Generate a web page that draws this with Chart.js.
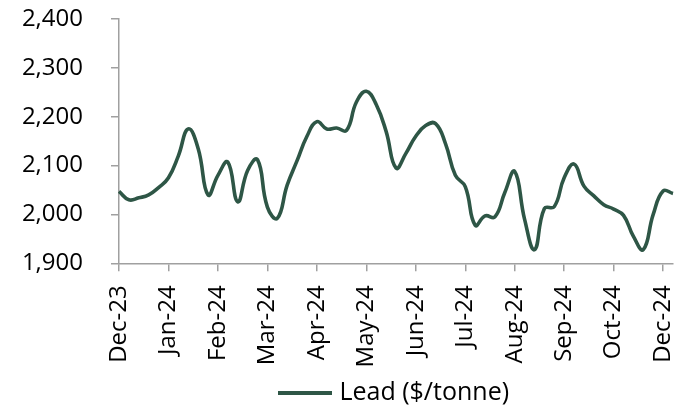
<!DOCTYPE html>
<html>
<head>
<meta charset="utf-8">
<script src="https://cdn.jsdelivr.net/npm/chart.js@4/dist/chart.umd.min.js"></script>
<style>
  html, body { margin: 0; padding: 0; background: #ffffff; }
  #wrap { width: 675px; height: 409px; position: relative; }
</style>
</head>
<body>
<div id="wrap"><canvas id="c" width="675" height="409"></canvas></div>
<script>
// Tick labels shown on the x axis (one every 5 weekly points)
const tickLabels = ['Dec-23','Jan-24','Feb-24','Mar-24','Apr-24','May-24','Jun-24','Jul-24','Aug-24','Sep-24','Oct-24','Dec-24'];
const pointsPerTick = 5;

// Lead price, $/tonne (weekly readings from the picture)
const leadPrices = [
  2047, 2030, 2034, 2040, 2055, 2075, 2120, 2175, 2135, 2040,
  2080, 2107, 2026, 2090, 2112, 2015, 1992, 2060, 2110, 2160,
  2190, 2175, 2177, 2172, 2230, 2252, 2225, 2170, 2095, 2125,
  2160, 2182, 2186, 2145, 2080, 2057, 1978, 1997, 1995, 2045,
  2088, 1990, 1928, 2012, 2016, 2075, 2103, 2058, 2038, 2020,
  2011, 1998, 1955, 1928, 2000, 2048, 2043
];
const seriesName = 'Lead ($/tonne)';

// Category per weekly point: month label at every tick position
const categories = leadPrices.map((_, i) => (i % pointsPerTick === 0 && tickLabels[i / pointsPerTick]) ? tickLabels[i / pointsPerTick] : '');

const yMin = 1900, yMax = 2400, yStep = 100;

const lineColor = '#2e5646';
const axisColor = '#a0a0a0';
const textColor = '#000000';
const fontFamily = '"Open Sans", "Noto Sans", sans-serif';

// Legend swatch: a short thick line
const swatch = document.createElement('canvas');
swatch.width = 54; swatch.height = 4;
(function () {
  const g = swatch.getContext('2d');
  g.fillStyle = lineColor;
  g.fillRect(0, 0, 54, 4);
})();

new Chart(document.getElementById('c'), {
  type: 'line',
  data: {
    labels: categories,
    datasets: [{
      label: seriesName,
      data: leadPrices,
      borderColor: lineColor,
      backgroundColor: lineColor,
      borderWidth: 3.6,
      pointRadius: 0,
      pointStyle: swatch,
      tension: 0.45,
      fill: false
    }]
  },
  options: {
    responsive: false,
    animation: false,
    devicePixelRatio: 1,
    layout: { padding: { top: 19, right: 2, left: 0, bottom: -6 } },
    plugins: {
      tooltip: { enabled: false },
      legend: {
        display: true,
        position: 'bottom',
        fullSize: false,
        labels: {
          usePointStyle: true,
          pointStyleWidth: 44,
          color: textColor,
          font: { family: fontFamily, size: 25 },
          padding: 8
        }
      }
    },
    scales: {
      x: {
        type: 'category',
        offset: false,
        afterFit: (s) => { s.height = 108.7; s.paddingLeft = 0; s.paddingRight = 0; },
        border: { display: true, color: axisColor, width: 1.5 },
        grid: {
          display: true,
          drawOnChartArea: false,
          drawTicks: true,
          tickLength: 8,
          lineWidth: 1.5,
          color: (ctx) => (ctx.index % pointsPerTick === 0) ? axisColor : 'rgba(0,0,0,0)'
        },
        ticks: {
          autoSkip: false,
          maxRotation: 90,
          minRotation: 90,
          padding: 14,
          color: textColor,
          font: { family: fontFamily, size: 24 }
        }
      },
      y: {
        min: yMin,
        max: yMax,
        afterFit: (s) => { s.width = 119; s.paddingTop = 0; s.paddingBottom = 0; },
        border: { display: true, color: axisColor, width: 1.5 },
        grid: {
          display: true,
          drawOnChartArea: false,
          drawTicks: true,
          tickLength: 8,
          lineWidth: 1.5,
          color: axisColor
        },
        ticks: {
          stepSize: yStep,
          padding: 28,
          color: textColor,
          font: { family: fontFamily, size: 24 },
          callback: (v) => Number(v).toLocaleString('en-US')
        }
      }
    }
  }
});
</script>
</body>
</html>
